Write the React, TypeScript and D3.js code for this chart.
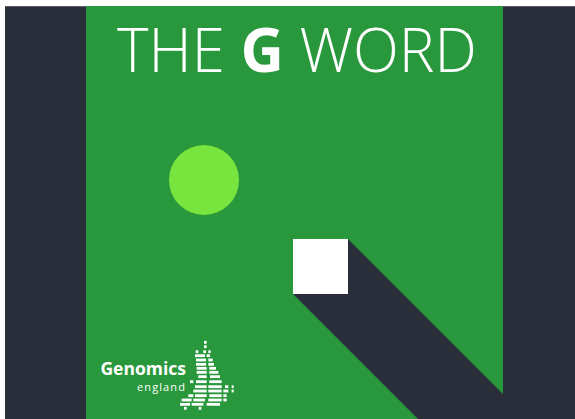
import { useEffect, useRef } from "react";
import * as d3 from "d3";

const W = 575;
const H = 419;

// title words, the bold one flagged
const titleWords = ["THE", "G", "WORD"];
const titleBold = [false, true, false];

// logo texts
const logoMain = "Genomics";
const logoSub = "england";

// dotted map of England: each row is [y, x0, x1] in logo grid units (0..480 x 0..252)
const mapRows: [number, number, number][] = [
  [22, 342, 350],
  [35, 342, 350],
  [50, 317, 325], [50, 340, 348], [50, 355, 362],
  [62, 315, 345], [62, 350, 360],
  [75, 318, 348], [75, 355, 368],
  [88, 318, 348], [88, 355, 372],
  [100, 320, 350], [100, 358, 378],
  [112, 320, 350], [112, 358, 385],
  [125, 325, 350], [125, 360, 390],
  [140, 300, 310], [140, 318, 350], [140, 358, 395],
  [155, 315, 350], [155, 355, 395], [155, 405, 415], [155, 425, 431],
  [168, 310, 350], [168, 355, 395], [168, 400, 415], [168, 425, 431],
  [182, 295, 310], [182, 315, 350], [182, 358, 395], [182, 400, 410],
  [195, 275, 305], [195, 310, 345], [195, 355, 395], [195, 400, 410],
  [208, 270, 300], [208, 305, 340], [208, 350, 390],
  [220, 282, 290], [220, 326, 334],
];

const colors = {
  dark: "#2a2e3a",
  green: "#29983d",
  lime: "#78e43e",
  white: "#ffffff",
};

export default function App() {
  const ref = useRef<SVGSVGElement>(null);

  useEffect(() => {
    if (!ref.current) return;
    const svg = d3.select(ref.current);
    svg.selectAll("*").remove();

    // panel geometry
    const px = d3.scaleLinear().domain([0, 1]).range([86, 503]);
    const py = d3.scaleLinear().domain([0, 1]).range([6, H]);

    svg.append("rect").attr("width", W).attr("height", H).attr("fill", "#ffffff");
    svg
      .append("rect")
      .attr("x", 5)
      .attr("y", 6)
      .attr("width", W - 5)
      .attr("height", H - 6)
      .attr("fill", colors.dark);
    svg
      .append("line")
      .attr("x1", 5)
      .attr("x2", W)
      .attr("y1", 6.5)
      .attr("y2", 6.5)
      .attr("stroke", "#5a5e68")
      .attr("stroke-width", 1);

    svg
      .append("rect")
      .attr("x", px(0))
      .attr("y", py(0))
      .attr("width", px(1) - px(0))
      .attr("height", py(1) - py(0))
      .attr("fill", colors.green);

    // circle
    svg
      .append("circle")
      .attr("cx", 204)
      .attr("cy", 180)
      .attr("r", 35)
      .attr("fill", colors.lime);

    // square and its long shadow
    const sq = { x: 293, y: 239, s: 55 };
    const len = 300;
    const shadow = d3.path();
    shadow.moveTo(sq.x + sq.s, sq.y);
    shadow.lineTo(sq.x + sq.s + len, sq.y + len);
    shadow.lineTo(sq.x + len, sq.y + sq.s + len);
    shadow.lineTo(sq.x, sq.y + sq.s);
    shadow.closePath();
    svg.append("path").attr("d", shadow.toString()).attr("fill", colors.dark);
    svg
      .append("rect")
      .attr("x", sq.x)
      .attr("y", sq.y)
      .attr("width", sq.s)
      .attr("height", sq.s)
      .attr("fill", colors.white);

    // title
    const title = svg
      .append("text")
      .attr("x", 297)
      .attr("y", 72)
      .attr("text-anchor", "middle")
      .attr("fill", colors.white)
      .style("font-family", "'Open Sans', sans-serif")
      .style("font-size", "60px")
      .style("font-weight", 300);
    titleWords.forEach((w, i) => {
      title
        .append("tspan")
        .style("font-weight", titleBold[i] ? 700 : 300)
        .text((i > 0 ? " " : "") + w);
    });

    // logo
    svg
      .append("text")
      .attr("x", 186)
      .attr("y", 375)
      .attr("text-anchor", "end")
      .attr("fill", colors.white)
      .style("font-family", "'Open Sans', sans-serif")
      .style("font-size", "17.5px")
      .style("font-weight", 700)
      .text(logoMain);
    svg
      .append("text")
      .attr("x", 186)
      .attr("y", 391)
      .attr("text-anchor", "end")
      .attr("fill", colors.white)
      .style("font-family", "'Open Sans', sans-serif")
      .style("font-size", "11px")
      .style("letter-spacing", "1.1px")
      .text(logoSub);

    const mx = d3.scaleLinear().domain([0, 480]).range([90, 250]);
    const my = d3.scaleLinear().domain([0, 252]).range([335, 419]);
    svg
      .append("g")
      .selectAll("rect")
      .data(mapRows)
      .join("rect")
      .attr("x", (d) => mx(d[1]))
      .attr("y", (d) => my(d[0]) - 1.4)
      .attr("width", (d) => mx(d[2]) - mx(d[1]))
      .attr("height", 2.8)
      .attr("fill", colors.white);
  }, []);

  return (
    <svg
      ref={ref}
      width={W}
      height={H}
      style={{ position: "absolute", left: 0, top: 0, display: "block" }}
    />
  );
}
